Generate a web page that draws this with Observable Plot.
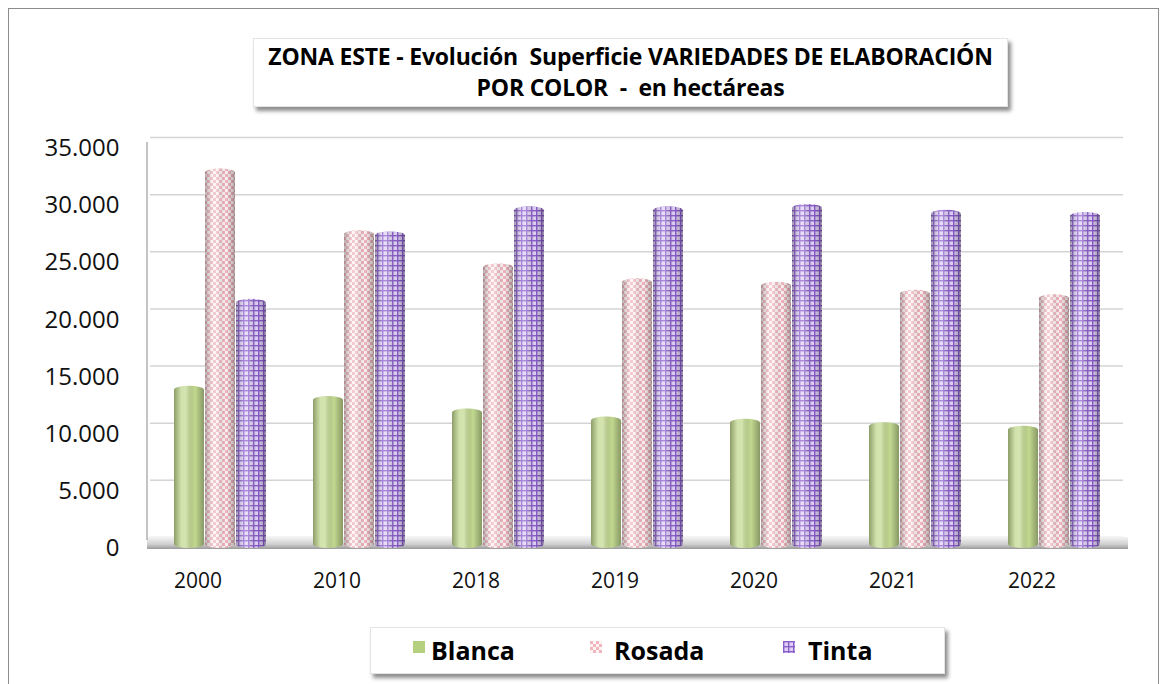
<!DOCTYPE html>
<html>
<head>
<meta charset="utf-8">
<script src="https://cdn.jsdelivr.net/npm/d3@7"></script>
<script src="https://cdn.jsdelivr.net/npm/@observablehq/plot@0.6"></script>
<style>
  html, body { margin: 0; padding: 0; background: #fff; }
  #wrap { position: relative; width: 1166px; height: 684px; overflow: hidden; font-family: "Open Sans", sans-serif; }
  #border { position: absolute; left: 8px; top: 8px; width: 1151px; height: 700px; border: 1px solid #8c8c8c; box-sizing: border-box; }
  #title { position: absolute; left: 253px; top: 38px; width: 755px; height: 69px; background: #fff;
           box-shadow: 3px 4px 4px rgba(0,0,0,0.45); border: 1px solid #e4e4e4; box-sizing: border-box;
           text-align: center; font-family: "Open Sans", sans-serif; font-weight: bold;
           font-size: 23px; line-height: 31px; padding-top: 2px; color: #000; letter-spacing: -0.2px; }
  #chart { position: absolute; left: 0; top: 0; }
  #legend { position: absolute; left: 370px; top: 627px; width: 575px; height: 47px; background: #fff;
            box-shadow: 3px 4px 4px rgba(0,0,0,0.45); border: 1px solid #e4e4e4; box-sizing: border-box; }
  .li { position: absolute; top: 5px; font-weight: bold; font-size: 25px; line-height: 34px; color: #000; font-family: "Open Sans", sans-serif; }
  .sw { position: absolute; top: 13px; width: 12px; height: 12px; }
</style>
</head>
<body>
<div id="wrap">
  <div id="border"></div>
  <div id="chart"></div>
  <div id="title">ZONA ESTE - Evolución&nbsp; Superficie VARIEDADES DE ELABORACIÓN<br>POR COLOR&nbsp; -&nbsp; en hectáreas</div>
  <div id="legend"></div>
</div>
<script>
// ---- data ----
const years = ["2000", "2010", "2018", "2019", "2020", "2021", "2022"];
const series = ["Blanca", "Rosada", "Tinta"];
const blanca = [14200, 13300, 12200, 11500, 11300, 11000, 10700];
const rosada = [33200, 27800, 24900, 23600, 23300, 22600, 22200];
const tinta  = [21800, 27700, 29900, 29900, 30100, 29600, 29400];
const yTicks = [0, 5000, 10000, 15000, 20000, 25000, 30000, 35000];

const values = {Blanca: blanca, Rosada: rosada, Tinta: tinta};
const rows = [];
years.forEach((yr, i) => series.forEach(s => rows.push({year: yr, serie: s, value: values[s][i]})));
const fills = {Blanca: "url(#p-blanca)", Rosada: "url(#p-rosada)", Tinta: "url(#p-tinta)"};
const fmt = d => d3.format(",")(d).replace(/,/g, ".");

const W = 1166, H = 600;
const chart = Plot.plot({
  width: W, height: H,
  marginTop: 148, marginBottom: 52, marginLeft: 147, marginRight: 41,
  style: {background: "transparent", color: "#000", fontFamily: "Open Sans, sans-serif"},
  fx: {domain: years, padding: 0, label: null, axis: null},
  x: {domain: series, paddingInner: 0.04, paddingOuter: 0.74, axis: null},
  y: {domain: [0, 35000], label: null, axis: null},
  marks: [
    Plot.ruleY(yTicks, {stroke: "#d4d4d4", strokeWidth: 1.5, dy: -11}),
    ...series.map(s => Plot.barY(rows.filter(r => r.serie === s), {
      fx: "year", x: "serie", y: "value", fill: fills[s], rx: 15, ry: 4
    })),
    Plot.barY(rows, {fx: "year", x: "serie", y: "value", fill: "url(#shade)", rx: 15, ry: 4}),
    Plot.axisY({ticks: yTicks, tickFormat: fmt, tickSize: 0, tickPadding: 31, fontSize: 24, fill: "#111"}),
    Plot.axisFx({anchor: "bottom", tickSize: 0, tickPadding: 25, dx: -22, fontSize: 21, fill: "#111", label: null})
  ]
});

// defs: patterns and gradients
const svgNS = "http://www.w3.org/2000/svg";
const defsHTML = `
<defs>
  <pattern id="p-blanca" patternUnits="objectBoundingBox" width="1" height="1">
    <rect width="40" height="600" fill="#c2d990"/>
  </pattern>
  <pattern id="p-rosada" patternUnits="userSpaceOnUse" width="6" height="6">
    <rect width="6" height="6" fill="#fdf3f3"/>
    <rect x="0" y="0" width="3" height="3" fill="#f1b5be"/>
    <rect x="3" y="3" width="3" height="3" fill="#f1b5be"/>
  </pattern>
  <pattern id="p-tinta" patternUnits="userSpaceOnUse" width="5" height="5">
    <rect width="5" height="5" fill="#dfd0f5"/>
    <rect x="0" y="0" width="1.4" height="5" fill="#8a5ecb"/>
    <rect x="0" y="0" width="5" height="1.4" fill="#8a5ecb"/>
  </pattern>
  <linearGradient id="shade" x1="0" x2="1" y1="0" y2="0">
    <stop offset="0" stop-color="#000" stop-opacity="0.28"/>
    <stop offset="0.25" stop-color="#fff" stop-opacity="0.25"/>
    <stop offset="0.4" stop-color="#fff" stop-opacity="0.3"/>
    <stop offset="0.7" stop-color="#000" stop-opacity="0.0"/>
    <stop offset="1" stop-color="#000" stop-opacity="0.3"/>
  </linearGradient>
  <linearGradient id="floor" x1="0" x2="0" y1="0" y2="1">
    <stop offset="0" stop-color="#f4f4f4"/>
    <stop offset="0.6" stop-color="#d0d0d0"/>
    <stop offset="1" stop-color="#9a9a9a"/>
  </linearGradient>
</defs>`;
const tmp = document.createElementNS(svgNS, "svg");
tmp.innerHTML = defsHTML;
chart.insertBefore(tmp.firstElementChild, chart.firstChild);

// floor and wall drawn from the y scale
const ys = chart.scale("y");
const y0 = ys.apply(0), yTop = ys.apply(35000);
const floor = document.createElementNS(svgNS, "rect");
floor.setAttribute("x", 147); floor.setAttribute("width", 1128 - 147);
floor.setAttribute("y", y0 - 11); floor.setAttribute("height", 12);
floor.setAttribute("fill", "url(#floor)");
const wall = document.createElementNS(svgNS, "line");
wall.setAttribute("x1", 147); wall.setAttribute("x2", 147);
wall.setAttribute("y1", yTop - 6); wall.setAttribute("y2", y0 - 8);
wall.setAttribute("stroke", "#b0b0b0"); wall.setAttribute("stroke-width", 1.5);
const firstG = chart.querySelector("g[aria-label='rule']") || chart.children[1];
firstG.after(floor);
floor.after(wall);

document.getElementById("chart").appendChild(chart);

// legend
const leg = document.getElementById("legend");
const items = [
  {s: "Blanca", sx: 42, tx: 60},
  {s: "Rosada", sx: 219, tx: 243},
  {s: "Tinta", sx: 412, tx: 437}
];
items.forEach(it => {
  const sw = document.createElementNS(svgNS, "svg");
  sw.setAttribute("class", "sw"); sw.setAttribute("width", 12); sw.setAttribute("height", 12);
  sw.style.left = it.sx + "px";
  sw.innerHTML = `<rect width="12" height="12" fill="${it.s === 'Blanca' ? '#b5d07e' : fills[it.s]}"/>`;
  leg.appendChild(sw);
  const t = document.createElement("div");
  t.className = "li"; t.style.left = it.tx + "px"; t.textContent = it.s;
  leg.appendChild(t);
});
</script>
</body>
</html>
